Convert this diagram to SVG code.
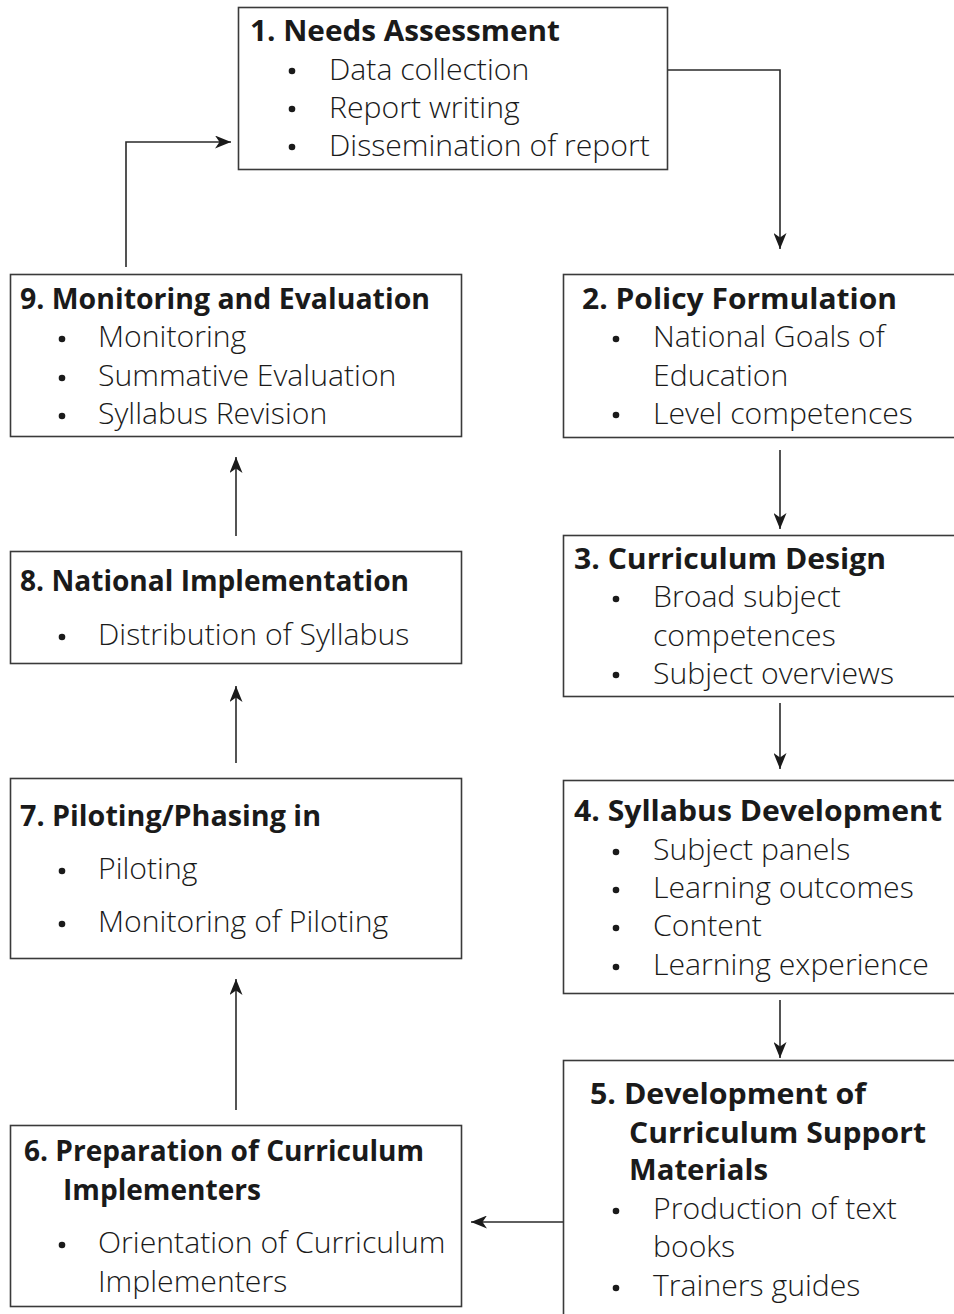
<svg xmlns="http://www.w3.org/2000/svg" width="954" height="1314" viewBox="0 0 954 1314">
  <style>
    .box { fill: #ffffff; stroke: #3a3a3a; stroke-width: 1.6; }
    .title { font-family: "Open Sans", "Noto Sans", sans-serif; font-weight: 700; font-size: 29px; fill: #1a1a1a; }
    .item { font-family: "Open Sans", "Noto Sans", sans-serif; font-weight: 300; font-size: 30.2px; fill: #1a1a1a; }
    .dot { fill: #1a1a1a; }
    .link { fill: none; stroke: #2a2a2a; stroke-width: 1.6; marker-end: url(#arrow); }
  </style>
  <defs>
    <marker id="arrow" markerUnits="userSpaceOnUse" markerWidth="17" markerHeight="13" viewBox="0 0 17 13" refX="16" refY="6.5" orient="auto">
      <path d="M0,0 L16,6.5 L0,13 L4.5,6.5 z" fill="#1a1a1a"/>
    </marker>
  </defs>

  <rect width="954" height="1314" fill="#ffffff"/>

  <!-- connectors -->
  <g id="connectors">
    <polyline class="link" points="667,70 780,70 780,249"/>
    <line class="link" x1="780" y1="450" x2="780" y2="529"/>
    <line class="link" x1="780" y1="703" x2="780" y2="769"/>
    <line class="link" x1="780" y1="1000" x2="780" y2="1058"/>
    <line class="link" x1="563" y1="1222" x2="471" y2="1222"/>
    <line class="link" x1="236" y1="1110" x2="236" y2="979"/>
    <line class="link" x1="236" y1="763" x2="236" y2="686"/>
    <line class="link" x1="236" y1="536" x2="236" y2="457"/>
    <polyline class="link" points="126,267 126,142 231,142"/>
  </g>

  <!-- 1. Needs Assessment -->
  <g id="node1">
    <rect class="box" x="238.5" y="7.5" width="429" height="162"/>
    <text class="title" x="250" y="41" textLength="310" lengthAdjust="spacingAndGlyphs">1. Needs Assessment</text>
    <circle class="dot" cx="292" cy="71" r="3.3"/>
    <text class="item" x="329" y="80">Data collection</text>
    <circle class="dot" cx="292" cy="109" r="3.3"/>
    <text class="item" x="329" y="118">Report writing</text>
    <circle class="dot" cx="292" cy="147" r="3.3"/>
    <text class="item" x="329" y="156">Dissemination of report</text>
  </g>

  <!-- 2. Policy Formulation -->
  <g id="node2">
    <rect class="box" x="563.5" y="274.5" width="410" height="163"/>
    <text class="title" x="582" y="309" textLength="315" lengthAdjust="spacingAndGlyphs">2. Policy Formulation</text>
    <circle class="dot" cx="616" cy="339" r="3.3"/>
    <text class="item" x="653" y="347">National Goals of</text>
    <text class="item" x="653" y="386">Education</text>
    <circle class="dot" cx="616" cy="415" r="3.3"/>
    <text class="item" x="653" y="424">Level competences</text>
  </g>

  <!-- 3. Curriculum Design -->
  <g id="node3">
    <rect class="box" x="563.5" y="535.5" width="410" height="161"/>
    <text class="title" x="574" y="569" textLength="312" lengthAdjust="spacingAndGlyphs">3. Curriculum Design</text>
    <circle class="dot" cx="616" cy="599" r="3.3"/>
    <text class="item" x="653" y="607">Broad subject</text>
    <text class="item" x="653" y="646">competences</text>
    <circle class="dot" cx="616" cy="675" r="3.3"/>
    <text class="item" x="653" y="684">Subject overviews</text>
  </g>

  <!-- 4. Syllabus Development -->
  <g id="node4">
    <rect class="box" x="563.5" y="780.5" width="410" height="213"/>
    <text class="title" x="574" y="821" textLength="368" lengthAdjust="spacingAndGlyphs">4. Syllabus Development</text>
    <circle class="dot" cx="616" cy="852" r="3.3"/>
    <text class="item" x="653" y="860">Subject panels</text>
    <circle class="dot" cx="616" cy="890" r="3.3"/>
    <text class="item" x="653" y="898">Learning outcomes</text>
    <circle class="dot" cx="616" cy="928" r="3.3"/>
    <text class="item" x="653" y="936">Content</text>
    <circle class="dot" cx="616" cy="967" r="3.3"/>
    <text class="item" x="653" y="975">Learning experience</text>
  </g>

  <!-- 5. Development of Curriculum Support Materials -->
  <g id="node5">
    <rect class="box" x="563.5" y="1060.5" width="410" height="280"/>
    <text class="title" x="590" y="1104" textLength="276" lengthAdjust="spacingAndGlyphs">5. Development of</text>
    <text class="title" x="629" y="1143" textLength="297" lengthAdjust="spacingAndGlyphs">Curriculum Support</text>
    <text class="title" x="629" y="1180" textLength="139" lengthAdjust="spacingAndGlyphs">Materials</text>
    <circle class="dot" cx="616" cy="1211" r="3.3"/>
    <text class="item" x="653" y="1219">Production of text</text>
    <text class="item" x="653" y="1257">books</text>
    <circle class="dot" cx="616" cy="1288" r="3.3"/>
    <text class="item" x="653" y="1296">Trainers guides</text>
  </g>

  <!-- 6. Preparation of Curriculum Implementers -->
  <g id="node6">
    <rect class="box" x="10.5" y="1125.5" width="451" height="181"/>
    <text class="title" x="24" y="1161" textLength="400" lengthAdjust="spacingAndGlyphs">6. Preparation of Curriculum</text>
    <text class="title" x="63" y="1200" textLength="198" lengthAdjust="spacingAndGlyphs">Implementers</text>
    <circle class="dot" cx="62" cy="1245" r="3.3"/>
    <text class="item" x="98" y="1253">Orientation of Curriculum</text>
    <text class="item" x="98" y="1292">Implementers</text>
  </g>

  <!-- 7. Piloting/Phasing in -->
  <g id="node7">
    <rect class="box" x="10.5" y="778.5" width="451" height="180"/>
    <text class="title" x="20" y="826" textLength="301" lengthAdjust="spacingAndGlyphs">7. Piloting/Phasing in</text>
    <circle class="dot" cx="62" cy="871" r="3.3"/>
    <text class="item" x="98" y="879">Piloting</text>
    <circle class="dot" cx="62" cy="924" r="3.3"/>
    <text class="item" x="98" y="932">Monitoring of Piloting</text>
  </g>

  <!-- 8. National Implementation -->
  <g id="node8">
    <rect class="box" x="10.5" y="551.5" width="451" height="112"/>
    <text class="title" x="20" y="591" textLength="389" lengthAdjust="spacingAndGlyphs">8. National Implementation</text>
    <circle class="dot" cx="62" cy="637" r="3.3"/>
    <text class="item" x="98" y="645">Distribution of Syllabus</text>
  </g>

  <!-- 9. Monitoring and Evaluation -->
  <g id="node9">
    <rect class="box" x="10.5" y="274.5" width="451" height="162"/>
    <text class="title" x="20" y="309" textLength="410" lengthAdjust="spacingAndGlyphs">9. Monitoring and Evaluation</text>
    <circle class="dot" cx="62" cy="339" r="3.3"/>
    <text class="item" x="98" y="347">Monitoring</text>
    <circle class="dot" cx="62" cy="378" r="3.3"/>
    <text class="item" x="98" y="386">Summative Evaluation</text>
    <circle class="dot" cx="62" cy="416" r="3.3"/>
    <text class="item" x="98" y="424">Syllabus Revision</text>
  </g>
</svg>
